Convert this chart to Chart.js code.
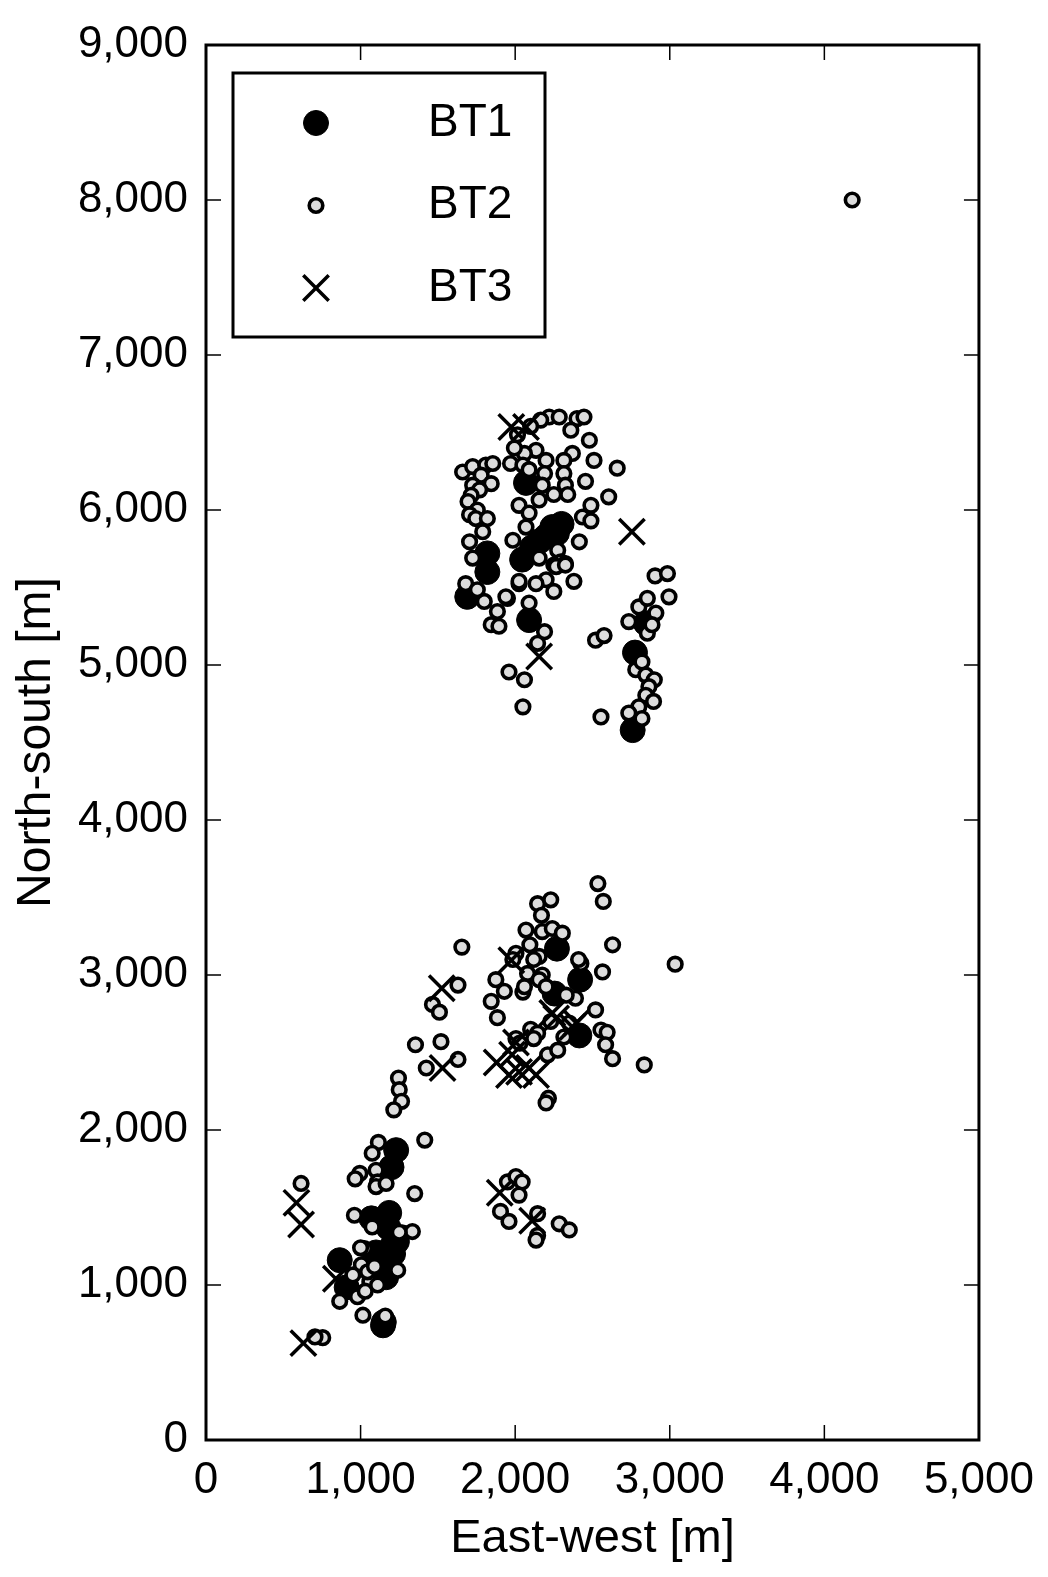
<!DOCTYPE html>
<html>
<head>
<meta charset="utf-8">
<title>BT positions</title>
<script src="https://cdn.jsdelivr.net/npm/chart.js@4.4.1/dist/chart.umd.min.js"></script>
<style>
  html, body { margin: 0; padding: 0; background: #fff; }
  #wrap { width: 1048px; height: 1577px; }
</style>
</head>
<body>
<div id="wrap"><canvas id="chart"></canvas></div>
<script>
// Series names (legend order)
const seriesNames = ["BT1", "BT2", "BT3"];

// Tick values for both axes
const xTickValues = [0, 1000, 2000, 3000, 4000, 5000];
const yTickValues = [0, 1000, 2000, 3000, 4000, 5000, 6000, 7000, 8000, 9000];

// [east-west, north-south] in metres
const bt1Points = [
    [2070, 6175], [2160, 5800], [2240, 5890], [2300, 5910], [2110, 5760], [2045, 5680],
    [2200, 5830], [2270, 5850],
    [1820, 5720], [1820, 5600], [1690, 5440], [2090, 5290], [2845, 5270], [2775, 5080],
    [2760, 4580],
    [2270, 3170], [2420, 2970], [2255, 2880], [2415, 2610],
    [1230, 1870], [1200, 1760], [1185, 1465], [1070, 1430], [865, 1160], [910, 985],
    [1200, 1245], [1125, 1160], [1165, 1050], [1145, 740], [1220, 1300], [1100, 1210],
    [1150, 760], [1180, 1370], [1210, 1200], [1150, 1120], [1185, 1100], [1235, 1280]
];

const bt2Points = [
    // north cluster
    [2220, 6600], [2285, 6600], [2400, 6590], [2445, 6600], [2360, 6515], [2480, 6450],
    [2165, 6580], [2100, 6540], [2015, 6485], [2510, 6320], [2660, 6270], [2455, 6185],
    [2605, 6085], [2490, 6030], [2435, 5955], [2490, 5930], [2415, 5795], [2370, 6365],
    [2315, 6320], [2200, 6320], [2135, 6385], [2060, 6365], [1995, 6400], [1970, 6300],
    [2050, 6290], [2090, 6260], [2190, 6235], [2315, 6235], [2325, 6160], [2340, 6100],
    [2250, 6100], [2155, 6065], [2025, 6030], [2175, 6160], [1660, 6245], [1725, 6280],
    [1810, 6290], [1855, 6300], [1780, 6225], [1845, 6170], [1725, 6160], [1770, 6130],
    [1715, 6095], [1695, 6055], [1755, 6000], [1705, 5970], [1745, 5945], [1820, 5945],
    [1790, 5860], [1705, 5795], [1725, 5690], [1985, 5805], [2070, 5890], [2275, 5740],
    [2295, 5665], [2325, 5655], [2250, 5645], [2155, 5690], [2090, 5980],
    [2380, 5540], [2200, 5550], [2135, 5525], [2025, 5525], [1950, 5430], [2090, 5400],
    [1885, 5345], [1845, 5260], [1895, 5250], [1800, 5410], [1680, 5525], [1755, 5485],
    [1940, 5440], [2025, 5540], [2265, 5635], [2250, 5475], [2325, 5645], [2145, 5140],
    [2190, 5215], [1960, 4955], [2060, 4905], [2050, 4730], [2520, 5160], [2575, 5190],
    [2905, 5575], [2985, 5590], [2995, 5440], [2800, 5375], [2855, 5430], [2910, 5335],
    [2735, 5280], [2855, 5205], [2885, 5260], [2780, 4970], [2820, 5020], [2845, 4935],
    [2900, 4905], [2865, 4860], [2845, 4805], [2895, 4765], [2800, 4730], [2735, 4690],
    [2820, 4655], [2555, 4665],
    // middle cluster
    [2535, 3590], [2570, 3475], [2145, 3460], [2230, 3485], [2170, 3385], [2070, 3290],
    [2175, 3280], [2240, 3300], [2305, 3270], [2630, 3195], [1655, 3180], [2095, 3195],
    [2155, 3120], [2005, 3140], [2425, 3075], [2410, 3100], [2565, 3020], [3035, 3070],
    [1875, 2970], [1630, 2935], [1845, 2830], [1885, 2725], [1930, 2895], [2390, 2850],
    [2520, 2775], [2555, 2645], [2595, 2630], [2585, 2550], [2630, 2460], [2835, 2420],
    [1355, 2550], [1520, 2570], [1425, 2400], [1630, 2455], [2100, 2650], [2145, 2625],
    [2120, 2590], [2005, 2590], [2210, 2485], [2275, 2515], [2315, 2600], [2350, 2690],
    [2215, 2205], [2200, 2175], [2050, 2890], [2330, 2870], [2080, 3010], [1985, 3100],
    [2175, 3000], [2155, 2970], [2200, 2925], [2060, 2925], [1465, 2810], [1510, 2760],
    [1245, 2335], [1250, 2260], [1265, 2185], [1215, 2130], [2120, 3100], [2030, 2560],
    [2230, 2700],
    // south-west cluster
    [1415, 1935], [1115, 1920], [1075, 1850], [995, 1720], [965, 1685], [1100, 1740],
    [1110, 1665], [1100, 1635], [1165, 1655], [615, 1655], [1350, 1590], [960, 1450],
    [1275, 1335], [1335, 1345], [1025, 1235], [1005, 1130], [1060, 1020], [1240, 1095],
    [980, 925], [865, 895], [1015, 805], [755, 660], [705, 665], [1045, 1085], [950, 1065],
    [1000, 1240], [1160, 800], [1030, 960], [1110, 1000], [1090, 1120], [1250, 1340],
    [1075, 1375],
    // south-middle group
    [1950, 1665], [2005, 1700], [2045, 1665], [2025, 1580], [1905, 1475], [1960, 1410],
    [2145, 1460], [2145, 1320], [2135, 1290], [2285, 1395], [2350, 1355],
    // isolated
    [4180, 8000]
];

const bt3Points = [
    [1975, 6535], [2070, 6535], [2755, 5860], [2155, 5055],
    [1525, 2915], [1530, 2400], [1975, 3095], [2240, 2755], [2370, 2665], [1880, 2435],
    [1980, 2485], [2025, 2375], [2090, 2400], [2135, 2355], [1960, 2355], [2005, 2565],
    [2265, 2720], [2395, 2690],
    [1900, 1595], [2110, 1415], [585, 1530], [615, 1390], [630, 625], [840, 1040]
];

const textFont = "'Liberation Sans', Arial, sans-serif";

function toXY(points) {
    return points.map(p => ({ x: p[0], y: p[1] }));
}

// Marker look per series
const markerStyles = [
    { pointStyle: "circle", radius: 12.5, borderWidth: 1, fill: "#000" },
    { pointStyle: "circle", radius: 6.8, borderWidth: 3.6, fill: "#dcdcdc" },
    { pointStyle: "crossRot", radius: 18, borderWidth: 3.5, fill: "#000" }
];

const seriesPoints = [bt1Points, bt2Points, bt3Points];

const datasets = seriesNames.map((name, i) => ({
    label: name,
    data: toXY(seriesPoints[i]),
    pointStyle: markerStyles[i].pointStyle,
    pointRadius: markerStyles[i].radius,
    pointBorderWidth: markerStyles[i].borderWidth,
    pointBackgroundColor: markerStyles[i].fill,
    pointBorderColor: "#000",
    order: seriesNames.length - 1 - i // BT3 on top, BT1 at the bottom
}));

// Frame and inward tick marks on all four sides
const framePlugin = {
    id: "frame",
    afterDatasetsDraw(chart) {
        const { ctx, chartArea: a, scales } = chart;
        const len = 15;
        ctx.save();
        ctx.strokeStyle = "#000";
        ctx.lineWidth = 1.5;
        ctx.beginPath();
        scales.x.ticks.forEach(t => {
            const px = scales.x.getPixelForValue(t.value);
            ctx.moveTo(px, a.bottom); ctx.lineTo(px, a.bottom - len);
            ctx.moveTo(px, a.top); ctx.lineTo(px, a.top + len);
        });
        scales.y.ticks.forEach(t => {
            const py = scales.y.getPixelForValue(t.value);
            ctx.moveTo(a.left, py); ctx.lineTo(a.left + len, py);
            ctx.moveTo(a.right, py); ctx.lineTo(a.right - len, py);
        });
        ctx.stroke();
        ctx.lineWidth = 3;
        ctx.strokeRect(a.left, a.top, a.right - a.left, a.bottom - a.top);
        ctx.restore();
    }
};

// Legend box drawn inside the plot, top-left
const boxLegend = {
    id: "boxLegend",
    afterDraw(chart) {
        const { ctx, chartArea: a } = chart;
        const left = a.left + 27, top = a.top + 28, w = 312, h = 264;
        ctx.save();
        ctx.fillStyle = "#fff";
        ctx.fillRect(left, top, w, h);
        ctx.lineWidth = 3;
        ctx.strokeStyle = "#000";
        ctx.strokeRect(left, top, w, h);

        seriesNames.forEach((name, i) => {
            const y = top + 50 + i * 82.5;
            const m = markerStyles[i];
            ctx.fillStyle = m.fill;
            ctx.strokeStyle = "#000";
            ctx.lineWidth = m.borderWidth;
            Chart.helpers.drawPoint(ctx, {
                pointStyle: m.pointStyle,
                radius: m.radius,
                borderWidth: m.borderWidth,
                rotation: 0
            }, left + 83, y);

            ctx.fillStyle = "#000";
            ctx.font = "46px " + textFont;
            ctx.textAlign = "left";
            ctx.textBaseline = "middle";
            ctx.fillText(name, left + 195, y);
        });
        ctx.restore();
    }
};

const myChart = new Chart(document.getElementById("chart"), {
    type: "scatter",
    data: { datasets: datasets },
    options: {
        responsive: true,
        maintainAspectRatio: false,
        animation: false,
        events: [],
        locale: "en-US",
        layout: { padding: { top: 45, right: 67, left: 0, bottom: 0 } },
        plugins: {
            legend: { display: false },
            tooltip: { enabled: false }
        },
        scales: {
            x: {
                type: "linear",
                min: 0,
                max: 5000,
                afterBuildTicks: scale => { scale.ticks = xTickValues.map(v => ({ value: v })); },
                afterFit: scale => { scale.height = 137; },
                grid: { display: false, drawTicks: false },
                border: { display: false },
                ticks: {
                    color: "#000",
                    padding: 14,
                    maxRotation: 0,
                    autoSkip: false,
                    font: { family: textFont, size: 44 },
                    callback: v => v.toLocaleString("en-US")
                },
                title: {
                    display: true,
                    text: "East-west [m]",
                    color: "#000",
                    font: { family: textFont, size: 47 },
                    padding: { top: 0, bottom: 10 }
                }
            },
            y: {
                type: "linear",
                min: 0,
                max: 9000,
                afterBuildTicks: scale => { scale.ticks = yTickValues.map(v => ({ value: v })); },
                afterFit: scale => { scale.width = 206; },
                grid: { display: false, drawTicks: false },
                border: { display: false },
                ticks: {
                    color: "#000",
                    padding: 18,
                    autoSkip: false,
                    font: { family: textFont, size: 44 },
                    callback: v => v.toLocaleString("en-US")
                },
                title: {
                    display: true,
                    text: "North-south [m]",
                    color: "#000",
                    font: { family: textFont, size: 48 },
                    padding: { top: 8, bottom: 0 }
                }
            }
        }
    },
    plugins: [framePlugin, boxLegend]
});
</script>
</body>
</html>
